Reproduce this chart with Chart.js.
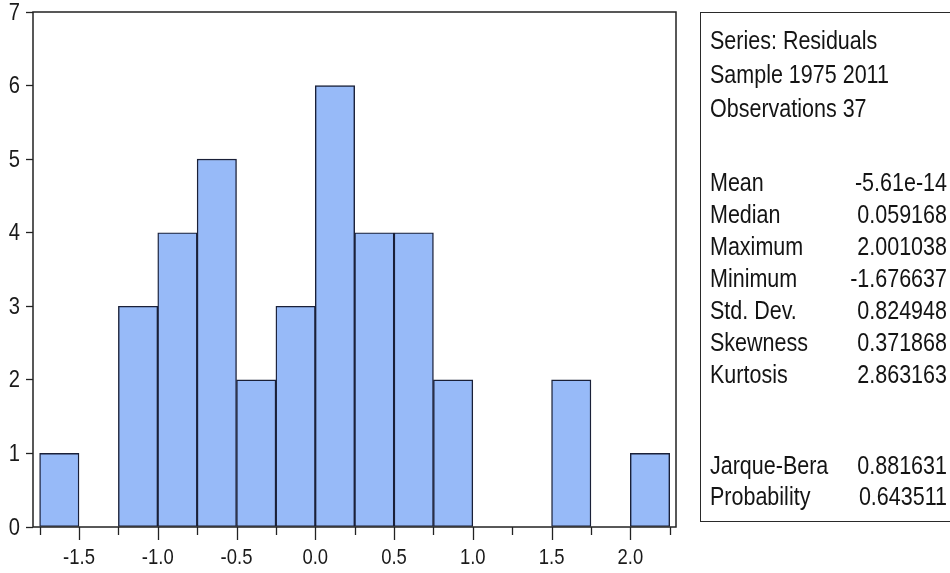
<!DOCTYPE html>
<html>
<head>
<meta charset="utf-8">
<script src="https://cdn.jsdelivr.net/npm/chart.js@4.4.0/dist/chart.umd.min.js"></script>
<style>
    html, body { margin: 0; padding: 0; background: #fff; }
    #wrap { position: relative; width: 950px; height: 573px; overflow: hidden; }
    #histChart { position: absolute; left: 0; top: 0; }
    #statsBox {
        position: absolute; left: 700px; top: 12px; width: 300px; height: 510px;
        border: 1.5px solid #2a2a2a; box-sizing: border-box;
        font-family: 'Liberation Sans', Arial, sans-serif;
        font-size: 25px; color: #141414;
    }
    .line { position: absolute; left: 9px; height: 30px; line-height: 30px; white-space: nowrap;
        transform: scaleX(0.86); transform-origin: left center; }
    .val { position: absolute; left: 0; width: 246px; text-align: right; height: 30px; line-height: 30px; white-space: nowrap;
        transform: scaleX(0.86); transform-origin: right center; }
</style>
</head>
<body>
<div id="wrap">
    <canvas id="histChart" width="950" height="573"></canvas>
    <div id="statsBox"></div>
</div>
<script>
// Datos del histograma (bins de 0.25)
const binCenters = [-1.625, -1.375, -1.125, -0.875, -0.625, -0.375, -0.125, 0.125,
    0.375, 0.625, 0.875, 1.125, 1.375, 1.625, 1.875, 2.125];
const counts = [1, 0, 3, 4, 5, 2, 3, 6, 4, 4, 2, 0, 0, 2, 0, 1];

// Ticks
const xTickValues = [-1.75, -1.5, -1.25, -1.0, -0.75, -0.5, -0.25, 0.0, 0.25,
    0.5, 0.75, 1.0, 1.25, 1.5, 1.75, 2.0, 2.25];
const xTickLabels = ['', '-1.5', '', '-1.0', '', '-0.5', '', '0.0', '',
    '0.5', '', '1.0', '', '1.5', '', '2.0', ''];
const yTickLabels = ['0', '1', '2', '3', '4', '5', '6', '7'];

// Estadísticas
const headerLines = ['Series: Residuals', 'Sample 1975 2011', 'Observations 37'];
const statNames = ['Mean', 'Median', 'Maximum', 'Minimum', 'Std. Dev.', 'Skewness', 'Kurtosis'];
const statValues = ['-5.61e-14', '0.059168', '2.001038', '-1.676637', '0.824948', '0.371868', '2.863163'];
const testNames = ['Jarque-Bera', 'Probability'];
const testValues = ['0.881631', '0.643511'];

const FONT = "'Liberation Sans', Arial, sans-serif";
const TEXT_COLOR = '#1a1a1a';
const SQUEEZE = 0.84;

document.addEventListener('DOMContentLoaded', function () {
    buildStatsBox();
    initializeChart();
});

// centerY en coordenadas de página
function addLine(box, text, centerY, isValue) {
    const el = document.createElement('div');
    el.className = isValue ? 'val' : 'line';
    el.textContent = text;
    el.style.top = (centerY - 13.5 - 15) + 'px';
    box.appendChild(el);
}

function buildStatsBox() {
    const box = document.getElementById('statsBox');
    const headerY = [40, 74, 108];
    headerLines.forEach((t, i) => addLine(box, t, headerY[i], false));
    statNames.forEach((t, i) => {
        const y = 182 + i * 32;
        addLine(box, t, y, false);
        addLine(box, statValues[i], y, true);
    });
    testNames.forEach((t, i) => {
        const y = 465 + i * 31;
        addLine(box, t, y, false);
        addLine(box, testValues[i], y, true);
    });
}

// Marco, marcas y etiquetas (estrechas, estilo EViews)
const framePlugin = {
    id: 'frame',
    afterDraw(chart) {
        const { ctx, chartArea } = chart;
        const xScale = chart.scales.x;
        const yScale = chart.scales.y;
        ctx.save();
        ctx.strokeStyle = '#222';
        ctx.lineWidth = 1.5;
        ctx.strokeRect(chartArea.left, chartArea.top, chartArea.right - chartArea.left, chartArea.bottom - chartArea.top);

        ctx.lineWidth = 1.3;
        xTickValues.forEach((v, i) => {
            const px = Math.round(xScale.getPixelForValue(v)) + 0.5;
            const len = xTickLabels[i] ? 13 : 8;
            ctx.beginPath();
            ctx.moveTo(px, chartArea.bottom);
            ctx.lineTo(px, chartArea.bottom + len);
            ctx.stroke();
        });

        ctx.fillStyle = TEXT_COLOR;
        ctx.textBaseline = 'middle';
        ctx.font = `22px ${FONT}`;
        ctx.textAlign = 'center';
        xTickValues.forEach((v, i) => {
            if (!xTickLabels[i]) return;
            ctx.save();
            ctx.translate(xScale.getPixelForValue(v), chartArea.bottom + 31);
            ctx.scale(SQUEEZE, 1);
            ctx.fillText(xTickLabels[i], 0, 0);
            ctx.restore();
        });

        ctx.font = `24px ${FONT}`;
        ctx.textAlign = 'right';
        yTickLabels.forEach((t, i) => {
            ctx.save();
            ctx.translate(chartArea.left - 13, yScale.getPixelForValue(i) + 1);
            ctx.scale(SQUEEZE, 1);
            ctx.fillText(t, 0, 0);
            ctx.restore();
        });
        ctx.restore();
    }
};

function initializeChart() {
    const ctx = document.getElementById('histChart').getContext('2d');
    new Chart(ctx, {
        type: 'bar',
        data: {
            datasets: [{
                data: binCenters.map((c, i) => ({ x: c, y: counts[i] })),
                backgroundColor: '#97BAF8',
                borderColor: '#1A2038',
                borderWidth: 1.4,
                borderSkipped: false,
                barPercentage: 1.0,
                categoryPercentage: 1.0
            }]
        },
        options: {
            responsive: false,
            animation: false,
            layout: { padding: { top: 12, right: 274, left: 0, bottom: 0 } },
            plugins: {
                legend: { display: false },
                tooltip: { enabled: false }
            },
            scales: {
                x: {
                    type: 'linear',
                    offset: false,
                    min: -1.792,
                    max: 2.29,
                    border: { display: false },
                    grid: { display: false, drawTicks: false, offset: false },
                    afterBuildTicks: scale => { scale.ticks = xTickValues.map(v => ({ value: v })); },
                    afterFit: scale => { scale.height = 46; },
                    ticks: { display: false }
                },
                y: {
                    min: 0,
                    max: 7,
                    border: { display: false },
                    grid: { drawOnChartArea: false, tickLength: 7, color: '#222', tickWidth: 1.3 },
                    afterBuildTicks: scale => { scale.ticks = yTickLabels.map((t, i) => ({ value: i })); },
                    afterFit: scale => { scale.width = 33; },
                    ticks: { display: false }
                }
            }
        },
        plugins: [framePlugin]
    });
}
</script>
</body>
</html>
